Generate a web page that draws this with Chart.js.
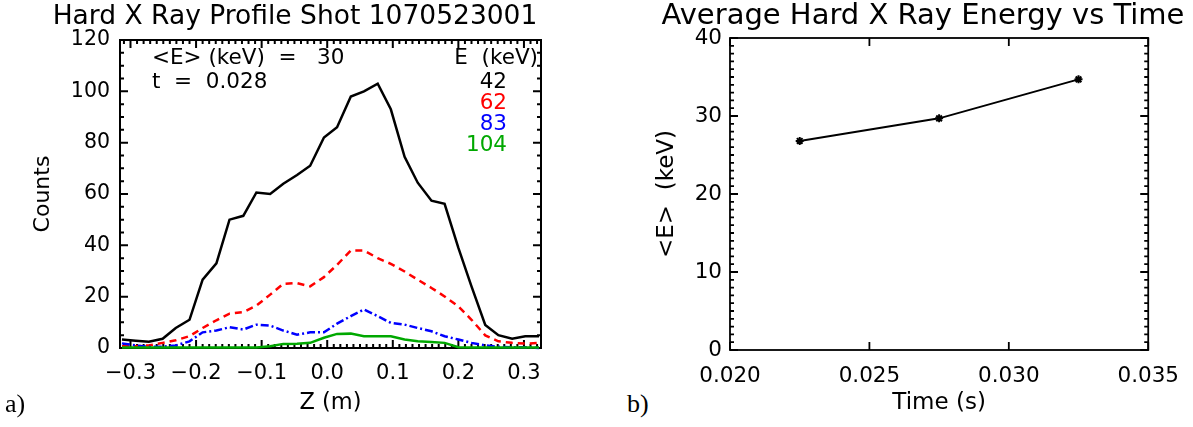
<!DOCTYPE html>
<html>
<head>
<meta charset="utf-8">
<script src="https://cdn.jsdelivr.net/npm/chart.js@4.4.1/dist/chart.umd.min.js"></script>
<style>
  body { margin: 0; background: #fff; width: 1193px; height: 427px; position: relative; overflow: hidden; }
  #boxA { position: absolute; left: 0; top: 0; width: 590px; height: 427px; }
  #boxB { position: absolute; left: 653px; top: 0; width: 540px; height: 427px; }
  .tag { position: absolute; font-family: "Liberation Serif", serif; font-size: 26px; line-height: 1; color: #000; }
</style>
</head>
<body>
<div id="boxA"><canvas id="chartA"></canvas></div>
<div id="boxB"><canvas id="chartB"></canvas></div>
<div class="tag" style="left:5px; top:391px">a)</div>
<div class="tag" style="left:627px; top:391px">b)</div>
<script>
// panel a: hard x-ray profile, counts vs Z for four energy bins
const zPos = [-0.313, -0.292, -0.272, -0.251, -0.231, -0.210, -0.190, -0.169, -0.149, -0.128, -0.108,
  -0.087, -0.067, -0.046, -0.026, -0.005, 0.015, 0.036, 0.056, 0.077, 0.097, 0.118, 0.138, 0.159,
  0.179, 0.200, 0.220, 0.241, 0.261, 0.282, 0.302, 0.323];
const counts42 = [3.3, 2.8, 2.4, 3.6, 7.8, 11, 26.6, 33, 50, 51.5, 60.6, 60, 64, 67.4, 71, 82,
  86, 98, 100, 103, 93, 74.5, 64.4, 57.4, 56.2, 39, 24, 9, 5, 3.6, 4.6, 4.6];
const counts62 = [0.7, 0.7, 1, 2, 3, 4.6, 7.8, 10.8, 13.4, 14, 16.5, 20.8, 25, 25.3, 24, 27.6,
  32.4, 38, 38, 35, 32.8, 29.8, 26.6, 23.4, 20.1, 16.2, 11, 4.9, 2.6, 2, 1.7, 2];
const counts83 = [1.8, 1, 0.5, 0.5, 1, 2.6, 6.1, 6.8, 8.1, 7.2, 9.1, 8.7, 6.8, 5.2, 6.1, 6.1,
  9.5, 12.4, 15, 12.4, 9.8, 9.1, 7.8, 6.5, 4.6, 3.3, 2, 1, 0.5, 0.3, 0.3, 0];
const counts104 = [0.2, 0.2, 0.2, 0.2, 0.2, 0.2, 0.2, 0.2, 0.2, 0.2, 0.2, 0.7, 1.6, 1.7, 2, 4,
  5.5, 5.6, 4.6, 4.6, 4.6, 3.3, 2.6, 2.3, 2, 0.3, 0.2, 0.2, 0.2, 0.2, 0.2, 0.2];
const energyLabels = ['42', '62', '83', '104'];
const energyColors = ['#000000', '#ff0000', '#0000ff', '#00a800'];
const meanEnergy = 30;
const shotTime = 0.028;

// panel b: average energy vs time
const times = [0.0225, 0.0275, 0.0325];
const avgEnergy = [26.8, 29.7, 34.7];

const FONT = '"DejaVu Sans", sans-serif';

// IDL style box: frame on all four sides with inward ticks
const idlBox = {
  id: 'idlBox',
  beforeDatasetsDraw(chart, args, opts) {
    const { ctx, chartArea: a } = chart;
    const sx = chart.scales.x, sy = chart.scales.y;
    ctx.save();
    ctx.strokeStyle = '#000';
    ctx.lineWidth = opts.lineWidth;
    ctx.strokeRect(a.left, a.top, a.right - a.left, a.bottom - a.top);
    const mark = (scale, v, len) => {
      const p = scale.getPixelForValue(v);
      ctx.beginPath();
      if (scale === sx) {
        ctx.moveTo(p, a.bottom); ctx.lineTo(p, a.bottom - len);
        ctx.moveTo(p, a.top); ctx.lineTo(p, a.top + len);
      } else {
        ctx.moveTo(a.left, p); ctx.lineTo(a.left + len, p);
        ctx.moveTo(a.right, p); ctx.lineTo(a.right - len, p);
      }
      ctx.stroke();
    };
    const walk = (scale, minor, ratio) => {
      const i0 = Math.ceil(scale.min / minor - 1e-6);
      const i1 = Math.floor(scale.max / minor + 1e-6);
      for (let i = i0; i <= i1; i++) {
        mark(scale, i * minor, i % ratio === 0 ? opts.majorLen : opts.minorLen);
      }
    };
    walk(sx, opts.xMinor, opts.xRatio);
    walk(sy, opts.yMinor, opts.yRatio);
    ctx.restore();
  }
};

// text block inside panel a
const profileText = {
  id: 'profileText',
  afterDraw(chart) {
    const { ctx, chartArea: a } = chart;
    ctx.save();
    ctx.font = '21.5px ' + FONT;
    ctx.textBaseline = 'middle';
    ctx.fillStyle = '#000';
    ctx.textAlign = 'left';
    ctx.fillText('<E> (keV)  =   ' + meanEnergy, a.left + 32, a.top + 18);
    ctx.fillText('t  =  ' + shotTime.toFixed(3), a.left + 32, a.top + 42);
    ctx.textAlign = 'right';
    ctx.fillText('E  (keV)', a.right - 3, a.top + 18);
    energyLabels.forEach((lab, i) => {
      ctx.fillStyle = energyColors[i];
      ctx.fillText(lab, a.right - 34, a.top + 42 + i * 21);
    });
    ctx.restore();
  }
};

const minus = s => s.replace('-', '\u2212');

// empty right-hand axis that only reserves room, so the title stays centred on the canvas
const spacer = w => ({
  position: 'right',
  afterFit: s => { s.width = w; },
  grid: { display: false, drawTicks: false },
  border: { display: false },
  ticks: { display: false }
});

const seriesA = [counts42, counts62, counts83, counts104];
const dashes = [[], [7, 5], [8, 3, 2, 3], []];

new Chart(document.getElementById('chartA'), {
  type: 'line',
  data: {
    datasets: seriesA.map((vals, i) => ({
      label: energyLabels[i] + ' keV',
      data: zPos.map((z, k) => ({ x: z, y: vals[k] })),
      borderColor: energyColors[i],
      borderWidth: 2.5,
      borderDash: dashes[i],
      order: 4 - i,
      clip: false
    }))
  },
  options: {
    responsive: true,
    maintainAspectRatio: false,
    animation: false,
    layout: { padding: 0 },
    elements: { point: { radius: 0 }, line: { tension: 0 } },
    plugins: {
      legend: { display: false },
      tooltip: { enabled: false },
      title: {
        display: true,
        text: 'Hard X Ray Profile Shot 1070523001',
        color: '#000',
        font: { family: FONT, size: 26.5, weight: 'normal', lineHeight: 1.2 },
        padding: { top: 1.5, bottom: 6.7 }
      },
      idlBox: { lineWidth: 2, majorLen: 8, minorLen: 4, xMinor: 0.01, xRatio: 10, yMinor: 5, yRatio: 4 }
    },
    scales: {
      x: {
        type: 'linear',
        min: -0.316,
        max: 0.326,
        afterFit: s => { s.height = 79; },
        grid: { display: false, drawTicks: false },
        border: { display: false },
        ticks: {
          stepSize: 0.1,
          includeBounds: false,
          padding: 13,
          color: '#000',
          font: { family: FONT, size: 21 },
          callback: v => minus((Math.abs(v) < 1e-9 ? 0 : v).toFixed(1))
        },
        title: {
          display: true, text: 'Z (m)', color: '#000',
          font: { family: FONT, size: 22.5 },
          padding: { top: 0, bottom: 10 }
        }
      },
      y: {
        min: 0,
        max: 120,
        afterFit: s => { s.width = 120; },
        grid: { display: false, drawTicks: false },
        border: { display: false },
        ticks: { stepSize: 20, padding: 10, color: '#000', font: { family: FONT, size: 20.5 } },
        title: {
          display: true, text: 'Counts', color: '#000',
          font: { family: FONT, size: 22 },
          padding: { top: 30, bottom: 0 }
        }
      },
      y2: spacer(49)
    }
  },
  plugins: [idlBox, profileText]
});

new Chart(document.getElementById('chartB'), {
  type: 'line',
  data: {
    datasets: [{
      label: '<E>',
      data: times.map((t, i) => ({ x: t, y: avgEnergy[i] })),
      borderColor: '#000',
      backgroundColor: '#000',
      borderWidth: 2,
      pointStyle: 'star',
      pointRadius: 4,
      pointBorderWidth: 2,
      tension: 0
    }]
  },
  options: {
    responsive: true,
    maintainAspectRatio: false,
    animation: false,
    layout: { padding: 0 },
    plugins: {
      legend: { display: false },
      tooltip: { enabled: false },
      title: {
        display: true,
        text: 'Average Hard X Ray Energy vs Time',
        color: '#000',
        font: { family: FONT, size: 29, weight: 'normal', lineHeight: 1.1 },
        padding: { top: 0.5, bottom: 5.6 }
      },
      idlBox: { lineWidth: 1.8, majorLen: 8, minorLen: 4, xMinor: 0.005, xRatio: 1, yMinor: 1, yRatio: 10 }
    },
    scales: {
      x: {
        type: 'linear',
        min: 0.020,
        max: 0.035,
        afterFit: s => { s.height = 77; },
        grid: { display: false, drawTicks: false },
        border: { display: false },
        ticks: {
          stepSize: 0.005,
          padding: 14,
          color: '#000',
          font: { family: FONT, size: 21.5 },
          callback: v => v.toFixed(3)
        },
        title: {
          display: true, text: 'Time (s)', color: '#000',
          font: { family: FONT, size: 23 },
          padding: { top: 0, bottom: 10 }
        }
      },
      y: {
        min: 0,
        max: 40,
        afterFit: s => { s.width = 77; },
        grid: { display: false, drawTicks: false },
        border: { display: false },
        ticks: { stepSize: 10, padding: 8, color: '#000', font: { family: FONT, size: 21.5 } },
        title: {
          display: true, text: '<E>  (keV)', color: '#000',
          font: { family: FONT, size: 23 },
          padding: { top: 0, bottom: 0 }
        }
      },
      y2: spacer(42)
    }
  },
  plugins: [idlBox]
});
</script>
</body>
</html>
